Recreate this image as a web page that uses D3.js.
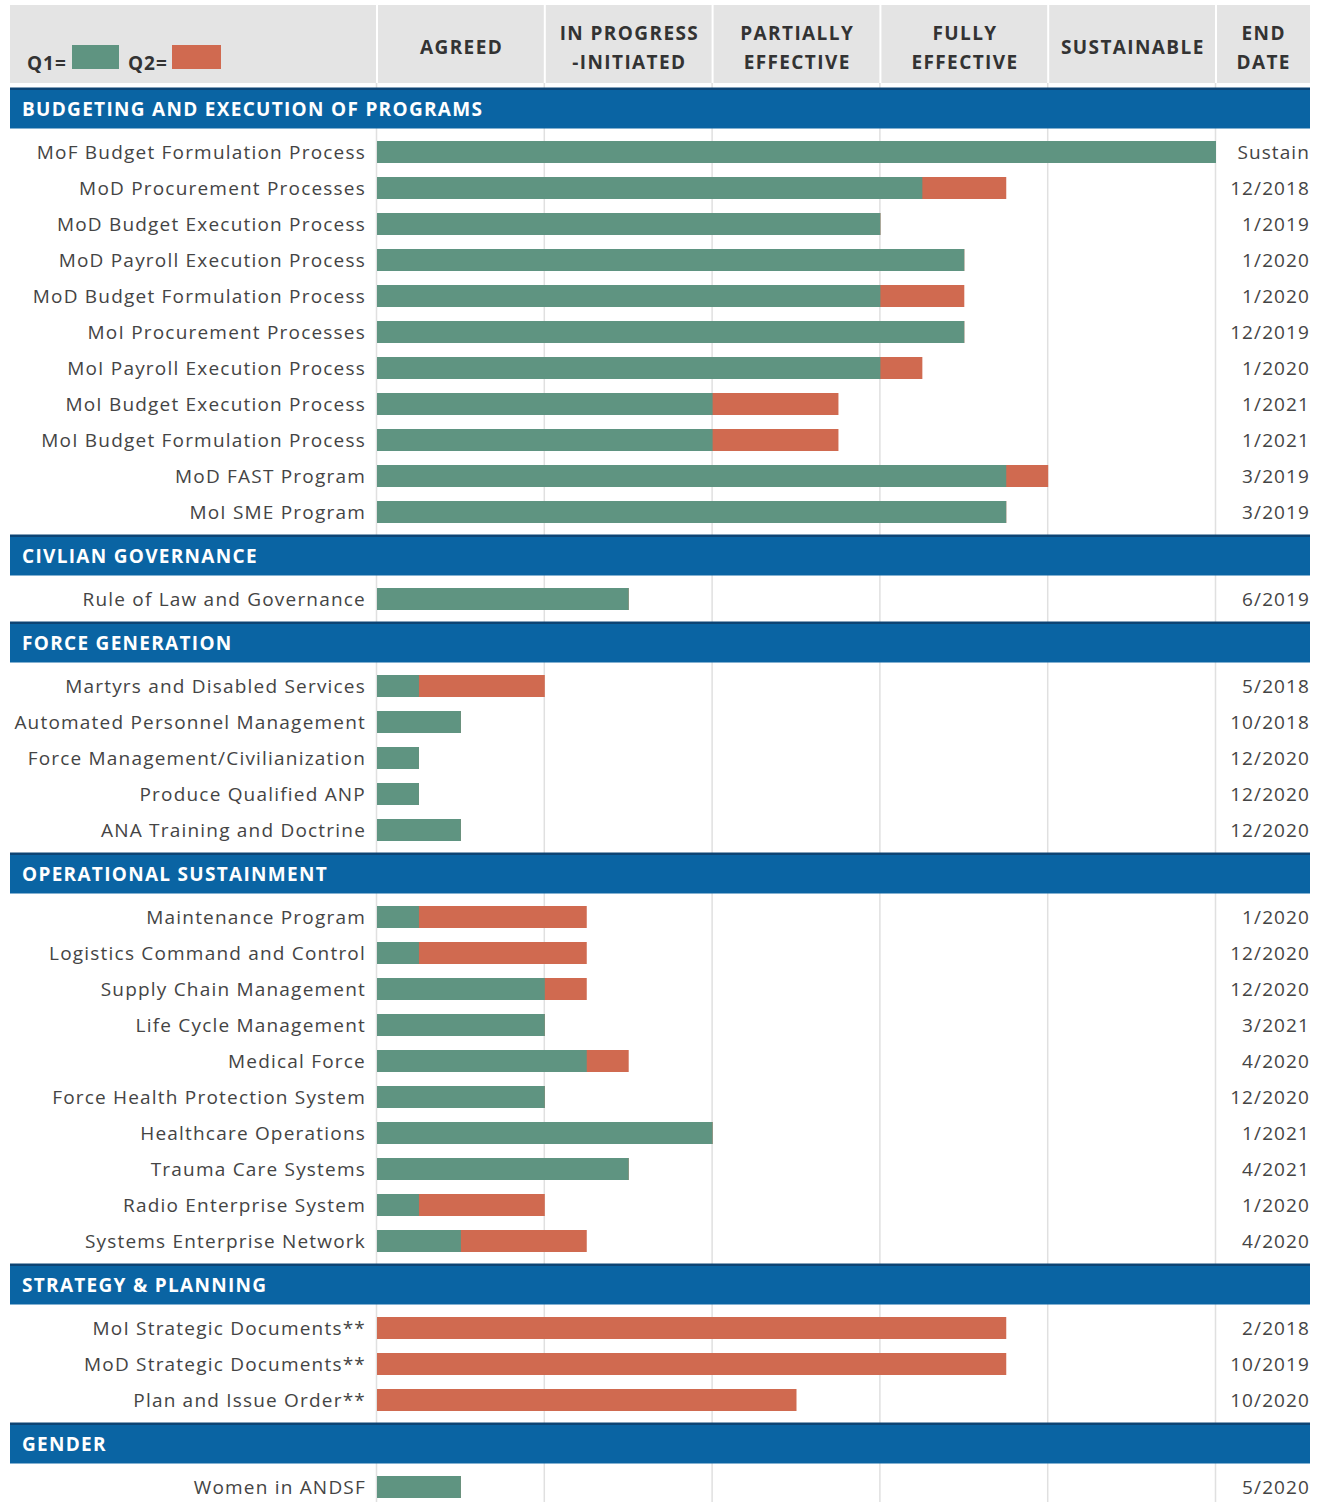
<!DOCTYPE html>
<html>
<head>
<meta charset="utf-8">
<script src="https://cdn.jsdelivr.net/npm/d3@7"></script>
<style>
  body { margin: 0; background: #fff; }
  svg { display: block; font-family: "Open Sans", sans-serif; }
</style>
</head>
<body>
<svg id="chart"></svg>
<script>
// Stages (column headers)
const stages = [
  ["AGREED"],
  ["IN PROGRESS", "-INITIATED"],
  ["PARTIALLY", "EFFECTIVE"],
  ["FULLY", "EFFECTIVE"],
  ["SUSTAINABLE"]
];

// Sections and their programs
const sections = [
  "BUDGETING AND EXECUTION OF PROGRAMS",
  "CIVLIAN GOVERNANCE",
  "FORCE GENERATION",
  "OPERATIONAL SUSTAINMENT",
  "STRATEGY & PLANNING",
  "GENDER"
];

const programs = [
  ["MoF Budget Formulation Process", "MoD Procurement Processes", "MoD Budget Execution Process",
   "MoD Payroll Execution Process", "MoD Budget Formulation Process", "MoI Procurement Processes",
   "MoI Payroll Execution Process", "MoI Budget Execution Process", "MoI Budget Formulation Process",
   "MoD FAST Program", "MoI SME Program"],
  ["Rule of Law and Governance"],
  ["Martyrs and Disabled Services", "Automated Personnel Management", "Force Management/Civilianization",
   "Produce Qualified ANP", "ANA Training and Doctrine"],
  ["Maintenance Program", "Logistics Command and Control", "Supply Chain Management",
   "Life Cycle Management", "Medical Force", "Force Health Protection System",
   "Healthcare Operations", "Trauma Care Systems", "Radio Enterprise System",
   "Systems Enterprise Network"],
  ["MoI Strategic Documents**", "MoD Strategic Documents**", "Plan and Issue Order**"],
  ["Women in ANDSF"]
];

// Q1 progress (stage units, 0-5)
const q1 = [
  [5, 3.25, 3, 3.5, 3, 3.5, 3, 2, 2, 3.75, 3.75],
  [1.5],
  [0.25, 0.5, 0.25, 0.25, 0.5],
  [0.25, 0.25, 1, 1, 1.25, 1, 2, 1.5, 0.25, 0.5],
  [0, 0, 0],
  [0.5]
];

// Q2 progress (stage units, 0-5)
const q2 = [
  [5, 3.75, 3, 3.5, 3.5, 3.5, 3.25, 2.75, 2.75, 4, 3.75],
  [1.5],
  [1, 0.5, 0.25, 0.25, 0.5],
  [1.25, 1.25, 1.25, 1, 1.5, 1, 2, 1.5, 1, 1.25],
  [3.75, 3.75, 2.5],
  [0.5]
];

const endDates = [
  ["Sustain", "12/2018", "1/2019", "1/2020", "1/2020", "12/2019", "1/2020", "1/2021", "1/2021", "3/2019", "3/2019"],
  ["6/2019"],
  ["5/2018", "10/2018", "12/2020", "12/2020", "12/2020"],
  ["1/2020", "12/2020", "12/2020", "3/2021", "4/2020", "12/2020", "1/2021", "4/2021", "1/2020", "4/2020"],
  ["2/2018", "10/2019", "10/2020"],
  ["5/2020"]
];

const W = 1322, H = 1502;
const green = "#5f9481", red = "#d06a50", blue = "#0a64a3", navy = "#0d4474";

const svg = d3.select("#chart").attr("width", W).attr("height", H);

const x = d3.scaleLinear().domain([0, 5]).range([377, 1216]);

// vertical layout
const rowStep = 36, gap = 43.5;
const rows = [], bands = [];
let yc = 108.5;
sections.forEach((s, i) => {
  bands.push({ name: s, y: yc });
  programs[i].forEach((p, j) => {
    yc += j === 0 ? gap : rowStep;
    rows.push({ name: p, q1: q1[i][j], q2: q2[i][j], end: endDates[i][j], y: yc });
  });
  yc += gap;
});

// header
svg.append("rect").attr("x", 10).attr("y", 5).attr("width", 1300).attr("height", 78).attr("fill", "#e4e4e4");
const bounds = [10, ...d3.range(6).map((d) => x(d)), 1310];
svg.selectAll(".hsep").data(bounds.slice(1, -1)).enter().append("line")
  .attr("x1", (d) => d).attr("x2", (d) => d).attr("y1", 5).attr("y2", 83)
  .attr("stroke", "#fff").attr("stroke-width", 2);

const headers = [...stages, ["END", "DATE"]];
headers.forEach((lines, i) => {
  const cx = (bounds[i + 1] + bounds[i + 2]) / 2 + 0.7;
  const t = svg.append("text").attr("x", cx).attr("text-anchor", "middle")
    .attr("font-size", 19).attr("font-weight", "bold").attr("fill", "#333")
    .attr("letter-spacing", 1.4);
  const y0 = lines.length === 1 ? 54 : 40;
  lines.forEach((l, k) => t.append("tspan").attr("x", cx).attr("y", y0 + k * 29).text(l));
});

// legend
svg.append("text").attr("x", 27).attr("y", 70).attr("font-size", 19).attr("font-weight", "bold")
  .attr("fill", "#333").attr("letter-spacing", 1).text("Q1=");
svg.append("rect").attr("x", 72).attr("y", 45).attr("width", 47).attr("height", 24).attr("fill", green);
svg.append("text").attr("x", 128).attr("y", 70).attr("font-size", 19).attr("font-weight", "bold")
  .attr("fill", "#333").attr("letter-spacing", 1).text("Q2=");
svg.append("rect").attr("x", 172).attr("y", 45).attr("width", 49).attr("height", 24).attr("fill", red);

// gridlines
svg.selectAll(".grid").data(d3.range(6)).enter().append("line")
  .attr("x1", (d) => x(d) - 0.5).attr("x2", (d) => x(d) - 0.5)
  .attr("y1", 83).attr("y2", H)
  .attr("stroke", "#e0e0e0").attr("stroke-width", 1.5);

// section bands
const bandG = svg.selectAll(".band").data(bands).enter().append("g");
bandG.append("rect").attr("x", 10).attr("y", (d) => d.y - 20).attr("width", 1300).attr("height", 40).attr("fill", blue);
bandG.append("rect").attr("x", 10).attr("y", (d) => d.y - 21).attr("width", 1300).attr("height", 2.5).attr("fill", navy);
bandG.append("text").attr("x", 22).attr("y", (d) => d.y + 7)
  .attr("font-size", 19).attr("font-weight", "bold").attr("fill", "#fff")
  .attr("letter-spacing", 1.3).text((d) => d.name);

// bars
const barH = 22;
const rowG = svg.selectAll(".row").data(rows).enter().append("g");
rowG.append("rect").attr("x", x(0)).attr("y", (d) => d.y - barH / 2)
  .attr("width", (d) => x(d.q2) - x(0)).attr("height", barH).attr("fill", red);
rowG.append("rect").attr("x", x(0)).attr("y", (d) => d.y - barH / 2)
  .attr("width", (d) => x(d.q1) - x(0)).attr("height", barH).attr("fill", green);

rowG.append("text").attr("x", 366).attr("y", (d) => d.y + 7).attr("text-anchor", "end")
  .attr("font-size", 19).attr("fill", "#444").attr("letter-spacing", 1.2).text((d) => d.name);
rowG.append("text").attr("x", 1310).attr("y", (d) => d.y + 7).attr("text-anchor", "end")
  .attr("font-size", 19).attr("fill", "#444").attr("letter-spacing", 1.1).text((d) => d.end);
</script>
</body>
</html>
